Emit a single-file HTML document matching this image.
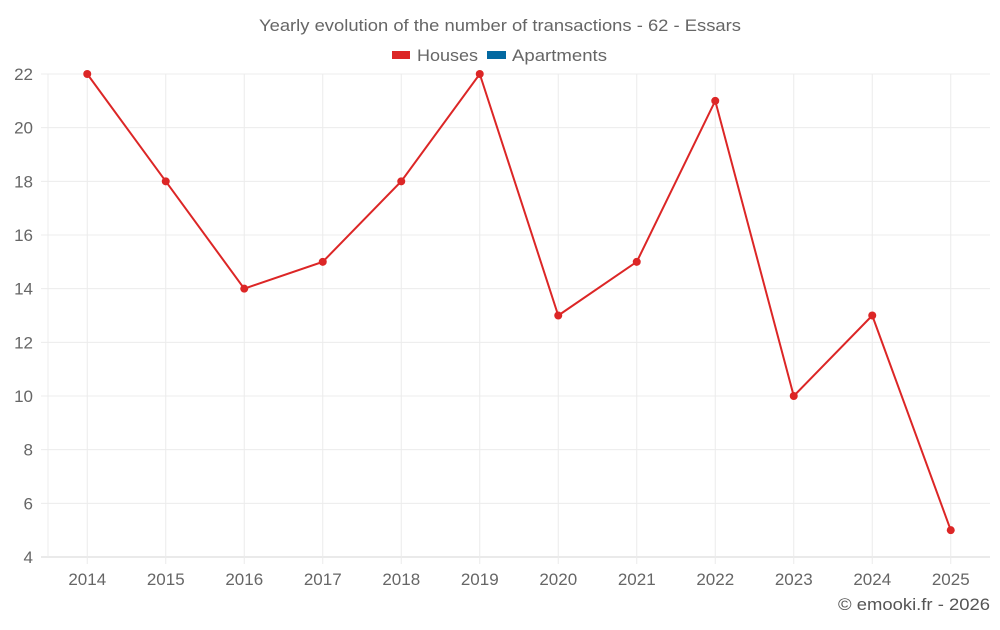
<!DOCTYPE html>
<html><head><meta charset="utf-8"><style>
html,body{margin:0;padding:0;background:#fff;}
svg text{font-family:"Liberation Sans",sans-serif;}
</style></head><body>
<svg id="c" width="1000" height="625" viewBox="0 0 1000 625">
<text x="259" y="31" font-size="17" fill="#666" textLength="482" lengthAdjust="spacingAndGlyphs">Yearly evolution of the number of transactions - 62 - Essars</text>
<g>
<g><rect x="392" y="51" width="18" height="8" fill="#dc2626"/><text x="417" y="61" font-size="17" fill="#666" textLength="61" lengthAdjust="spacingAndGlyphs">Houses</text></g>
<g><rect x="487" y="51" width="19" height="8" fill="#0369a1"/><text x="512" y="61" font-size="17" fill="#666" textLength="95" lengthAdjust="spacingAndGlyphs">Apartments</text></g>
</g>
<g id="grid"></g>
<g id="axes"></g>
<g id="series"></g>
<text x="838" y="610" font-size="17" fill="#555" textLength="152" lengthAdjust="spacingAndGlyphs">© emooki.fr - 2026</text>
</svg>
<script>
const categories=["2014","2015","2016","2017","2018","2019","2020","2021","2022","2023","2024","2025"];
const houses=[22,18,14,15,18,22,13,15,21,10,13,5];
const yTicks=[4,6,8,10,12,14,16,18,20,22];
const L=48,R=990,T=74,B=557,yMin=4,yMax=22;
const ns="http://www.w3.org/2000/svg";
const bw=(R-L)/categories.length;
function x(i){return L+bw*(i+0.5);}
function y(v){return B-(v-yMin)/(yMax-yMin)*(B-T);}
function mk(t,a,p){const e=document.createElementNS(ns,t);for(const k in a)e.setAttribute(k,a[k]);p.appendChild(e);return e;}
const g=document.getElementById('grid'),ax=document.getElementById('axes'),s=document.getElementById('series');
yTicks.forEach(v=>{
 const l=mk('line',{x1:41,x2:R,y1:y(v),y2:y(v),stroke:v===yMin?'#d4d4d4':'#ececec','stroke-width':1},g);
 
 
 const t=mk('text',{x:33,y:y(v)+6,'text-anchor':'end','font-size':17,fill:'#666'},ax);
 t.textContent=v;
 
 
});
mk('line',{x1:L,x2:L,y1:T,y2:B,stroke:'#ececec'},g);
categories.forEach((c,i)=>{
 const l=mk('line',{x1:x(i),x2:x(i),y1:T,y2:B+7,stroke:'#ececec'},g);
 
 
 const t=mk('text',{x:x(i),y:585,'text-anchor':'middle','font-size':17,fill:'#666'},ax);
 t.textContent=c;
 
 
});
const pl=mk('polyline',{points:houses.map((v,i)=>x(i)+','+y(v)).join(' '),fill:'none',stroke:'#dc2626','stroke-width':2},s);


houses.forEach((v,i)=>{
 const c=mk('circle',{cx:x(i),cy:y(v),r:4,fill:'#dc2626'},s);
 
 
});
</script>
</body></html>
